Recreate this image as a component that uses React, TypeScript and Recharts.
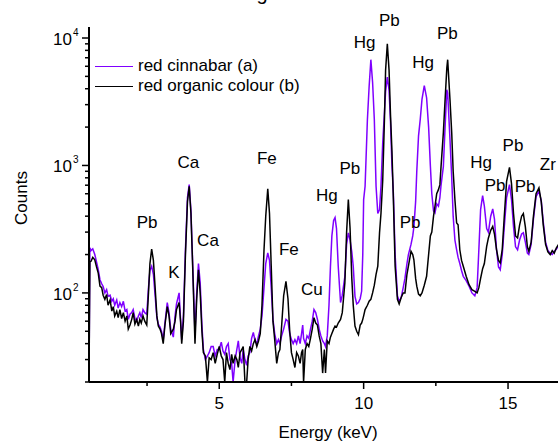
import React from "react";
import { LineChart, Line, XAxis, YAxis, Legend, ReferenceDot } from "recharts";

// XRF spectra, energy in keV vs counts
const energy = [
  0.49, 0.52, 0.56, 0.62, 0.69, 0.75, 0.81, 0.87, 0.93, 0.98,
  1.04, 1.1, 1.15, 1.22, 1.28, 1.33, 1.38, 1.45, 1.5, 1.56,
  1.62, 1.68, 1.74, 1.8, 1.85, 1.91, 1.97, 2.02, 2.08, 2.14,
  2.2, 2.25, 2.3, 2.36, 2.42, 2.49, 2.55, 2.6, 2.66, 2.72,
  2.78, 2.84, 2.89, 2.95, 3.0, 3.06, 3.12, 3.2, 3.26, 3.32,
  3.41, 3.47, 3.52, 3.61, 3.66, 3.7, 3.76, 3.83, 3.9, 3.96,
  4.02, 4.08, 4.16, 4.22, 4.28, 4.34, 4.4, 4.45, 4.52, 4.59,
  4.65, 4.72, 4.79, 4.86, 4.93, 5.0, 5.07, 5.13, 5.19, 5.25,
  5.31, 5.37, 5.43, 5.48, 5.55, 5.61, 5.66, 5.72, 5.78, 5.83,
  5.89, 5.95, 6.0, 6.06, 6.12, 6.18, 6.24, 6.3, 6.36, 6.42,
  6.48, 6.55, 6.61, 6.68, 6.74, 6.8, 6.86, 6.92, 6.99, 7.05,
  7.1, 7.16, 7.23, 7.31, 7.38, 7.44, 7.5, 7.56, 7.62, 7.68,
  7.74, 7.8, 7.85, 7.89, 7.92, 7.98, 8.04, 8.1, 8.16, 8.22,
  8.28, 8.34, 8.4, 8.46, 8.52, 8.58, 8.64, 8.68, 8.74, 8.8,
  8.85, 8.9, 8.96, 9.01, 9.06, 9.12, 9.2, 9.26, 9.35, 9.41,
  9.47, 9.53, 9.59, 9.64, 9.7, 9.76, 9.82, 9.88, 9.93, 9.97,
  10.0, 10.05, 10.13, 10.19, 10.25, 10.31, 10.37, 10.43, 10.49, 10.55,
  10.6, 10.66, 10.72, 10.76, 10.82, 10.88, 10.93, 10.98, 11.03, 11.09,
  11.17, 11.23, 11.3, 11.37, 11.43, 11.5, 11.55, 11.64, 11.7, 11.74,
  11.8, 11.84, 11.9, 11.96, 12.02, 12.1, 12.18, 12.25, 12.31, 12.36,
  12.42, 12.47, 12.53, 12.59, 12.64, 12.68, 12.76, 12.82, 12.88, 12.91,
  12.99, 13.05, 13.1, 13.16, 13.22, 13.27, 13.33, 13.39, 13.45, 13.55,
  13.65, 13.75, 13.85, 13.93, 13.99, 14.05, 14.12, 14.18, 14.26, 14.32,
  14.4, 14.47, 14.53, 14.6, 14.67, 14.73, 14.8, 14.87, 14.95, 15.05,
  15.12, 15.19, 15.26, 15.33, 15.4, 15.47, 15.53, 15.6, 15.67, 15.72,
  15.8, 15.88, 15.97, 16.07, 16.15, 16.22, 16.3, 16.38, 16.46, 16.53,
  16.6, 16.67, 16.75,
];

const cinnabar = [
  20, 226, 215, 222, 200, 175, 152, 127, 118, 112,
  100, 106, 94, 96, 86, 90, 80, 88, 76, 84,
  78, 86, 72, 74, 62, 68, 70, 74, 63, 60,
  66, 70, 64, 74, 70, 68, 110, 150, 162, 140,
  95, 64, 57, 54, 50, 43, 58, 84, 70, 52,
  45, 66, 82, 100, 62, 43, 66, 220, 560, 707,
  440, 170, 48, 100, 170, 120, 56, 36, 30, 32,
  34, 38, 38, 32, 36, 36, 41, 35, 33, 38,
  40, 30, 28, 20, 30, 36, 42, 31, 28, 36,
  30, 27, 32, 34, 44, 49, 42, 40, 46, 52,
  66, 110, 170, 206, 180, 110, 62, 48, 40, 43,
  40, 46, 52, 62, 60, 48, 43, 40, 43, 40,
  46, 40, 48, 56, 44, 40, 46, 44, 52, 60,
  74, 70, 62, 52, 46, 42, 40, 38, 46, 80,
  160, 280, 370, 390, 320, 162, 84, 96, 135, 240,
  296, 260, 210, 162, 94, 82, 84, 90, 103, 200,
  540, 686, 2280, 4170, 6760, 4500, 2280, 686, 420, 450,
  686, 1500, 2600, 3800, 4940, 3900, 2200, 1000, 600, 200,
  95, 86, 92, 110, 130, 170, 200, 240, 280, 330,
  520, 900, 1700, 2300, 3300, 4230, 3400, 2000, 1000, 600,
  440, 424, 500, 480, 560, 700, 980, 2000, 3930, 3700,
  1600, 800, 400, 260, 218, 190, 170, 150, 135, 125,
  113, 100, 95, 110, 220, 450, 580, 480, 320, 300,
  400, 456, 380, 220, 160, 152, 200, 330, 560, 707,
  540, 330, 230, 218, 260, 290, 296, 250, 205, 200,
  240, 380, 570, 626, 530, 360, 250, 215, 205, 200,
  212, 220, 235,
];

const organic = [
  20, 175, 177, 190, 182, 160, 143, 113, 110, 96,
  89, 97, 80, 88, 72, 78, 66, 72, 64, 74,
  63, 70, 60, 66, 52, 56, 62, 70, 57, 62,
  55, 62, 58, 66, 60, 56, 100, 170, 221, 180,
  110, 66, 55, 52, 48, 40, 56, 78, 66, 48,
  52, 60, 74, 84, 60, 40, 60, 200, 520, 685,
  420, 160, 40, 90, 152, 100, 50, 34, 32, 20,
  31, 30, 34, 28, 33, 38, 32, 30, 20, 34,
  28, 25, 33, 28, 32, 30, 26, 34, 36, 38,
  20, 20, 30, 38, 35, 40, 43, 38, 42, 48,
  80, 218, 400, 655, 420, 162, 60, 43, 28, 34,
  36, 55, 95, 123, 90, 50, 34, 30, 26, 34,
  32, 28, 34, 36, 20, 36, 40, 38, 44, 52,
  64, 58, 56, 46, 40, 23.5, 36, 23.5, 42, 40,
  45, 48, 52, 55, 54, 58, 62, 70, 120, 300,
  540, 320, 130, 80, 55, 50, 47, 56, 58, 62,
  66, 74, 80, 86, 89, 100, 115, 140, 162, 296,
  420, 760, 2280, 5600, 9020, 5600, 2500, 1300, 540, 162,
  89, 82, 92, 100, 100, 140, 162, 212, 200, 182,
  130, 113, 98, 95, 100, 115, 135, 200, 280, 300,
  400, 477, 600, 646, 707, 980, 1800, 3280, 5800, 6760,
  3280, 1800, 900, 540, 354, 343, 218, 180, 162, 135,
  116, 106, 103, 100, 110, 130, 155, 170, 232, 270,
  310, 333, 290, 220, 180, 172, 220, 400, 750, 966,
  720, 420, 280, 270, 340, 400, 419, 330, 230, 212,
  250, 400, 600, 667, 520, 340, 240, 210, 200, 215,
  205, 225, 240,
];

const xTicks = [2.5, 5, 7.5, 10, 12.5, 15];
const yTicks = [
  20, 30, 40, 50, 60, 70, 80, 90, 100,
  200, 300, 400, 500, 600, 700, 800, 900, 1000,
  2000, 3000, 4000, 5000, 6000, 7000, 8000, 9000, 10000,
];

// element labels placed in data coordinates (keV, counts)
const peakNames = ["Pb", "K", "Ca", "Ca", "Fe", "Fe", "Cu", "Hg", "Pb", "Hg", "Pb", "Pb", "Hg", "Pb", "Hg", "Pb", "Pb", "Pb", "Zr"];
const peakEnergy = [2.5, 3.43, 3.93, 4.61, 6.65, 7.41, 8.21, 8.73, 9.52, 10.03, 10.89, 12.9, 12.06, 11.61, 14.07, 14.55, 15.17, 15.59, 16.38];
const peakCounts = [362, 147, 1071, 262, 1151, 222, 108, 590, 962, 9350, 13900, 11000, 6520, 362, 1071, 707, 1455, 695, 1033];

const FONT = "'Liberation Sans', Arial, sans-serif";
const PURPLE = "#7f00ff";

const data = energy.map((e, i) => ({ e, a: cinnabar[i], b: organic[i] }));

function XTick({ x, y, payload }: any) {
  const major = payload.value % 5 === 0;
  return (
    <g>
      <line x1={x} x2={x} y1={y} y2={y + (major ? 7 : 4)} stroke="#000" strokeWidth={1.5} />
      {major && (
        <text x={x} y={y + 27} textAnchor="middle" fontSize={17} fontFamily={FONT} fill="#000">
          {payload.value}
        </text>
      )}
    </g>
  );
}

function YTick({ x, y, payload }: any) {
  const lg = Math.log10(payload.value);
  const exp = Math.round(lg);
  const major = Math.abs(lg - exp) < 1e-6;
  return (
    <g>
      <line x1={x - (major ? 7 : 4)} x2={x} y1={y} y2={y} stroke="#000" strokeWidth={1.5} />
      {major && (
        <g fontFamily={FONT} fill="#000">
          <text x={x - 17} y={y + 7} textAnchor="end" fontSize={17}>10</text>
          <text x={x - 16} y={y - 2} fontSize={10}>{exp}</text>
        </g>
      )}
    </g>
  );
}

function LegendBox({ payload }: any) {
  return (
    <div style={{ fontFamily: FONT, fontSize: 17, color: "#000" }}>
      {(payload || []).map((p: any) => (
        <div key={p.value} style={{ display: "flex", alignItems: "center", height: 20, whiteSpace: "nowrap" }}>
          <div style={{ width: 38, borderTop: `1.5px solid ${p.color}`, marginRight: 5 }} />
          <span>{p.value}</span>
        </div>
      ))}
    </div>
  );
}

export default function App() {
  return (
    <div style={{ position: "absolute", left: 0, top: 0, width: 558, height: 443, background: "#fff" }}>
      <LineChart width={558} height={443} data={data} margin={{ top: 27, right: 0, bottom: 31, left: 29 }}>
        <XAxis
          dataKey="e"
          type="number"
          domain={[0.49, 16.73]}
          allowDataOverflow
          ticks={xTicks}
          interval={0}
          tick={<XTick />}
          tickLine={false}
          tickSize={0}
          tickMargin={0}
          height={30}
          axisLine={{ stroke: "#000", strokeWidth: 2 }}
        />
        <YAxis
          scale="log"
          domain={[20, 12200]}
          allowDataOverflow
          ticks={yTicks}
          interval={0}
          tick={<YTick />}
          tickLine={false}
          tickSize={0}
          tickMargin={0}
          width={60}
          axisLine={{ stroke: "#000", strokeWidth: 2 }}
        />
        <Legend
          layout="vertical"
          verticalAlign="middle"
          align="center"
          content={<LegendBox />}
          wrapperStyle={{ left: 95, top: 56, width: "auto" }}
        />
        <Line
          name="red cinnabar (a)"
          dataKey="a"
          stroke={PURPLE}
          strokeWidth={1.5}
          dot={false}
          type="linear"
          isAnimationActive={false}
        />
        <Line
          name="red organic colour (b)"
          dataKey="b"
          stroke="#000"
          strokeWidth={1.5}
          dot={false}
          type="linear"
          isAnimationActive={false}
        />
        {peakNames.map((name, i) => (
          <ReferenceDot
            key={i}
            x={peakEnergy[i]}
            y={peakCounts[i]}
            r={0}
            ifOverflow="visible"
            shape={(p: any) => (
              <text
                x={p.cx}
                y={p.cy + 6}
                textAnchor="middle"
                fontSize={17}
                fontFamily={FONT}
                fill="#000"
              >
                {name}
              </text>
            )}
          />
        ))}
      </LineChart>
      <svg
        width={558}
        height={443}
        style={{ position: "absolute", left: 0, top: 0, pointerEvents: "none" }}
        fontFamily={FONT}
      >
        <text x={262} y={-0.5} fontSize={20} textAnchor="middle">g</text>
        <text
          x={21}
          y={198}
          fontSize={17}
          textAnchor="middle"
          dominantBaseline="central"
          transform="rotate(-90, 21, 198)"
        >
          Counts
        </text>
        <text x={328} y={438} fontSize={17} textAnchor="middle">Energy (keV)</text>
      </svg>
    </div>
  );
}
